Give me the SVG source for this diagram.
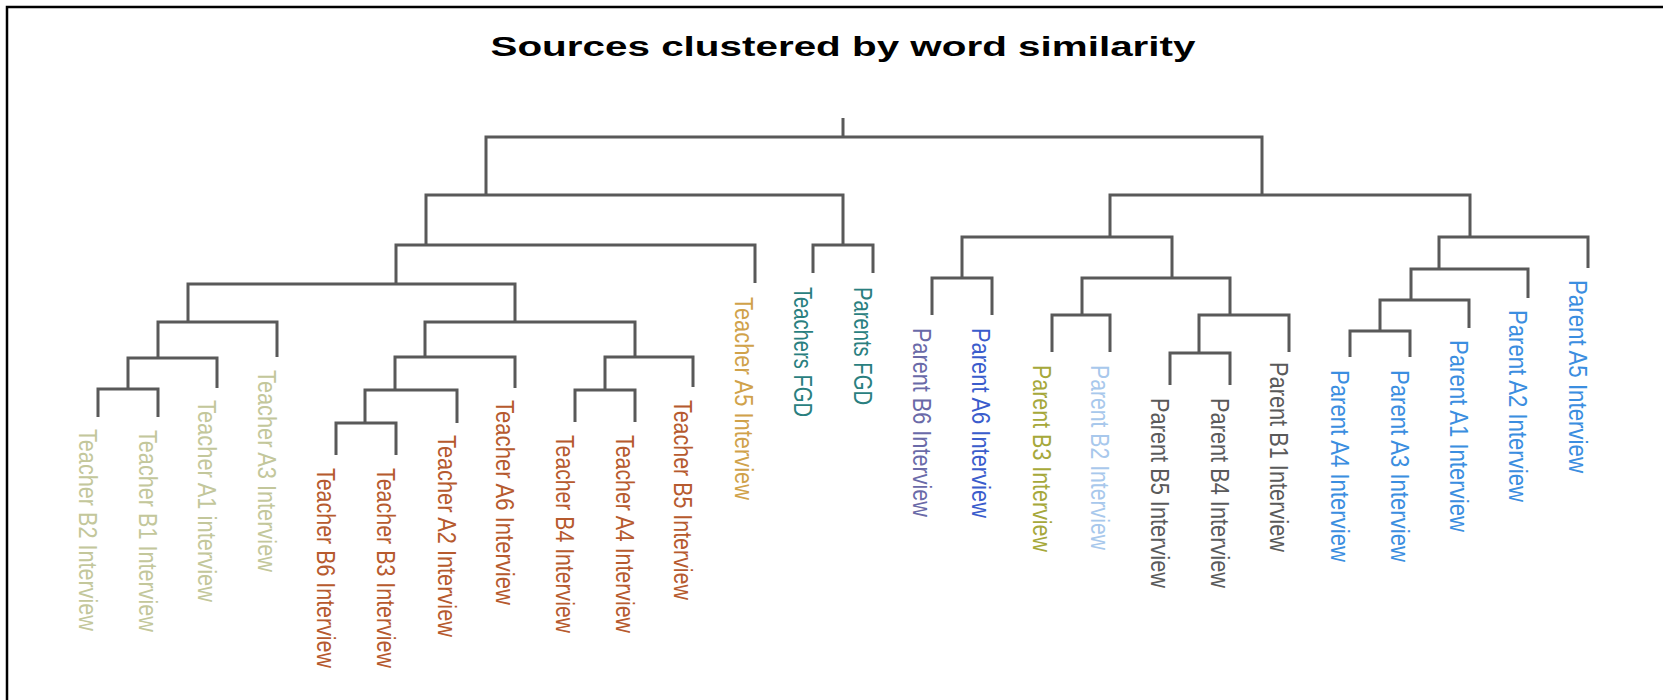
<svg xmlns="http://www.w3.org/2000/svg" width="1663" height="700" viewBox="0 0 1663 700">
<style>
.lbl{font-family:"Liberation Sans",Arial,sans-serif;font-size:25px}
.title{font-family:"Liberation Sans",Arial,sans-serif;font-size:28px;font-weight:bold;fill:#000}
.ln{fill:none;stroke:#595959;stroke-width:3;stroke-linejoin:miter;stroke-linecap:butt}
.olive{fill:#c3c79b}.sienna{fill:#b65a2e}.gold{fill:#d0a24a}.teal{fill:#2a7f7f}
.slate{fill:#6a6aa8}.royal{fill:#3a5ccc}.mustard{fill:#a6a83a}.sky{fill:#a8c8ec}
.gray{fill:#5a5a5a}.blue{fill:#3b8ee0}
</style>
<rect x="0" y="0" width="1663" height="700" fill="#fff"/>
<path d="M7,700 V7 H1663" fill="none" stroke="#000" stroke-width="2.5"/>
<text class="title" x="843" y="56" text-anchor="middle" textLength="705" lengthAdjust="spacingAndGlyphs">Sources clustered by word similarity</text>
<g id="connectors" class="ln">
<path d="M843,118 V137"/>
<path d="M486,195 V137 H1262 V195"/>
<path d="M426,245 V195 H843 V245"/>
<path d="M396,284 V245 H755 V283"/>
<path d="M188,322 V284 H515 V322"/>
<path d="M158,358 V322 H277 V357"/>
<path d="M128,389 V358 H217 V388"/>
<path d="M98,417 V389 H158 V417"/>
<path d="M425,357 V322 H635 V357"/>
<path d="M395,390 V357 H515 V388"/>
<path d="M365,423 V390 H457 V423"/>
<path d="M336,455 V423 H396 V455"/>
<path d="M605,390 V357 H693 V387"/>
<path d="M575,422 V390 H635 V422"/>
<path d="M813,273 V245 H873 V273"/>
<path d="M1110,237 V195 H1470 V237"/>
<path d="M962,278 V237 H1172 V278"/>
<path d="M932,315 V278 H992 V315"/>
<path d="M1082,315 V278 H1230 V315"/>
<path d="M1052,352 V315 H1110 V352"/>
<path d="M1199,353 V315 H1289 V352"/>
<path d="M1170,385 V353 H1230 V385"/>
<path d="M1439,269 V237 H1588 V268"/>
<path d="M1411,300 V269 H1528 V298"/>
<path d="M1380,331 V300 H1469 V328"/>
<path d="M1350,357 V331 H1410 V357"/>
</g>
<g id="teacher-b2"><text class="lbl olive" transform="translate(79,429) rotate(90)" textLength="202" lengthAdjust="spacingAndGlyphs">Teacher B2 Interview</text></g>
<g id="teacher-b1"><text class="lbl olive" transform="translate(139,430) rotate(90)" textLength="202" lengthAdjust="spacingAndGlyphs">Teacher B1 Interview</text></g>
<g id="teacher-a1"><text class="lbl olive" transform="translate(198,400) rotate(90)" textLength="202" lengthAdjust="spacingAndGlyphs">Teacher A1 interview</text></g>
<g id="teacher-a3"><text class="lbl olive" transform="translate(258,370) rotate(90)" textLength="202" lengthAdjust="spacingAndGlyphs">Teacher A3 Interview</text></g>
<g id="teacher-b6"><text class="lbl sienna" transform="translate(317,468) rotate(90)" textLength="200" lengthAdjust="spacingAndGlyphs">Teacher B6 Interview</text></g>
<g id="teacher-b3"><text class="lbl sienna" transform="translate(377,468) rotate(90)" textLength="200" lengthAdjust="spacingAndGlyphs">Teacher B3 Interview</text></g>
<g id="teacher-a2"><text class="lbl sienna" transform="translate(438,435) rotate(90)" textLength="202" lengthAdjust="spacingAndGlyphs">Teacher A2 Interview</text></g>
<g id="teacher-a6"><text class="lbl sienna" transform="translate(496,400) rotate(90)" textLength="205" lengthAdjust="spacingAndGlyphs">Teacher A6 Interview</text></g>
<g id="teacher-b4"><text class="lbl sienna" transform="translate(556,435) rotate(90)" textLength="198" lengthAdjust="spacingAndGlyphs">Teacher B4 Interview</text></g>
<g id="teacher-a4"><text class="lbl sienna" transform="translate(616,435) rotate(90)" textLength="198" lengthAdjust="spacingAndGlyphs">Teacher A4 Interview</text></g>
<g id="teacher-b5"><text class="lbl sienna" transform="translate(674,400) rotate(90)" textLength="200" lengthAdjust="spacingAndGlyphs">Teacher B5 Interview</text></g>
<g id="teacher-a5"><text class="lbl gold" transform="translate(735,297) rotate(90)" textLength="203" lengthAdjust="spacingAndGlyphs">Teacher A5 Interview</text></g>
<g id="teachers-fgd"><text class="lbl teal" transform="translate(794,287) rotate(90)" textLength="130" lengthAdjust="spacingAndGlyphs">Teachers FGD</text></g>
<g id="parents-fgd"><text class="lbl teal" transform="translate(854,287) rotate(90)" textLength="118" lengthAdjust="spacingAndGlyphs">Parents FGD</text></g>
<g id="parent-b6"><text class="lbl slate" transform="translate(913,328) rotate(90)" textLength="189" lengthAdjust="spacingAndGlyphs">Parent B6 Interview</text></g>
<g id="parent-a6"><text class="lbl royal" transform="translate(972,328) rotate(90)" textLength="190" lengthAdjust="spacingAndGlyphs">Parent A6 Interview</text></g>
<g id="parent-b3"><text class="lbl mustard" transform="translate(1033,365) rotate(90)" textLength="187" lengthAdjust="spacingAndGlyphs">Parent B3 Interview</text></g>
<g id="parent-b2"><text class="lbl sky" transform="translate(1091,365) rotate(90)" textLength="185" lengthAdjust="spacingAndGlyphs">Parent B2 Interview</text></g>
<g id="parent-b5"><text class="lbl gray" transform="translate(1151,398) rotate(90)" textLength="190" lengthAdjust="spacingAndGlyphs">Parent B5 Interview</text></g>
<g id="parent-b4"><text class="lbl gray" transform="translate(1211,398) rotate(90)" textLength="190" lengthAdjust="spacingAndGlyphs">Parent B4 Interview</text></g>
<g id="parent-b1"><text class="lbl gray" transform="translate(1270,362) rotate(90)" textLength="190" lengthAdjust="spacingAndGlyphs">Parent B1 Interview</text></g>
<g id="parent-a4"><text class="lbl blue" transform="translate(1331,370) rotate(90)" textLength="192" lengthAdjust="spacingAndGlyphs">Parent A4 Interview</text></g>
<g id="parent-a3"><text class="lbl blue" transform="translate(1391,370) rotate(90)" textLength="192" lengthAdjust="spacingAndGlyphs">Parent A3 Interview</text></g>
<g id="parent-a1"><text class="lbl blue" transform="translate(1450,340) rotate(90)" textLength="192" lengthAdjust="spacingAndGlyphs">Parent A1 Interview</text></g>
<g id="parent-a2"><text class="lbl blue" transform="translate(1509,310) rotate(90)" textLength="192" lengthAdjust="spacingAndGlyphs">Parent A2 Interview</text></g>
<g id="parent-a5"><text class="lbl blue" transform="translate(1569,280) rotate(90)" textLength="193" lengthAdjust="spacingAndGlyphs">Parent A5 Interview</text></g>
</svg>
